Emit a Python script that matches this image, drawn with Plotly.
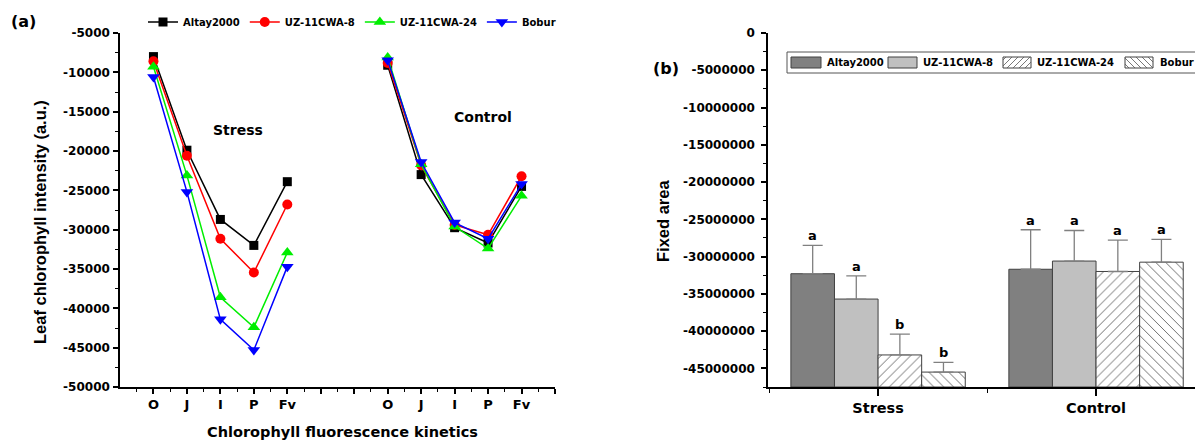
import plotly.graph_objects as go

# ---------------- data: panel (a) ----------------
stages = ["O", "J", "I", "P", "Fv"]
cultivars = ["Altay2000", "UZ-11CWA-8", "UZ-11CWA-24", "Bobur"]
stress_pos = [1, 2, 3, 4, 5]
control_pos = [8, 9, 10, 11, 12]

stress_altay = [-8000, -19900, -28700, -32000, -23900]
stress_uz8 = [-8600, -20600, -31150, -35450, -26800]
stress_uz24 = [-9300, -23100, -38600, -42400, -32900]
stress_bobur = [-10600, -25200, -41400, -45300, -34700]

control_altay = [-9100, -23000, -29750, -31700, -24500]
control_uz8 = [-8800, -21800, -29400, -30650, -23200]
control_uz24 = [-8100, -21700, -29600, -32400, -25700]
control_bobur = [-8450, -21400, -29100, -31150, -24200]

# ---------------- data: panel (b) ----------------
groups = ["Stress", "Control"]
area_altay = [-32.3e6, -31.7e6]
area_uz8 = [-35.7e6, -30.6e6]
area_uz24 = [-43.2e6, -32.0e6]
area_bobur = [-45.5e6, -30.75e6]
err_altay = [3.8e6, 5.3e6]
err_uz8 = [3.1e6, 4.1e6]
err_uz24 = [2.8e6, 4.2e6]
err_bobur = [1.3e6, 3.05e6]
letters_altay = ["a", "a"]
letters_uz8 = ["a", "a"]
letters_uz24 = ["b", "a"]
letters_bobur = ["b", "a"]

W, H = 1195, 443
TOP, BOT = 33, 387
WIDE = "DejaVu Sans, Verdana, sans-serif"
NARROW = "Liberation Sans, Arial, sans-serif"


def px(x):
    return x / W


def py(y):
    return (BOT - y) / (BOT - TOP)


def bold(s, fam=WIDE):
    return dict(family=fam, size=s, color="black", weight="bold")


fig = go.Figure()

# ---------- panel (a) lines ----------
line_colors = ["#000000", "#ff0000", "#00ee00", "#0000ff"]
symbols = ["square", "circle", "triangle-up", "triangle-down"]
sizes = [9, 10, 11, 11]
stress_sets = [stress_altay, stress_uz8, stress_uz24, stress_bobur]
control_sets = [control_altay, control_uz8, control_uz24, control_bobur]
for name, col, sym, sz, s_vals, c_vals in zip(cultivars, line_colors, symbols, sizes,
                                               stress_sets, control_sets):
    fig.add_trace(go.Scatter(
        x=stress_pos + [None] + control_pos,
        y=s_vals + [None] + c_vals,
        mode="lines+markers",
        name=name,
        line=dict(color=col, width=1.5),
        marker=dict(symbol=sym, size=sz, color=col),
        xaxis="x", yaxis="y", legend="legend",
    ))

# ---------- panel (b) bars ----------
AXIS_MIN_B = -47.5e6
bar_sets = [area_altay, area_uz8, area_uz24, area_bobur]
err_sets = [err_altay, err_uz8, err_uz24, err_bobur]
letter_sets = [letters_altay, letters_uz8, letters_uz24, letters_bobur]
bar_fill = ["#808080", "#c0c0c0", "white", "white"]
patterns = ["", "", "/", "\\"]
EDGE = "#404040"
HATCH = "#555555"
gx = list(range(len(groups)))
for ci, (name, vals, errs, fill, pat) in enumerate(zip(cultivars, bar_sets, err_sets,
                                                        bar_fill, patterns)):
    marker = dict(color=fill, line=dict(color=EDGE, width=1))
    if pat:
        marker["pattern"] = dict(shape=pat, fgcolor=HATCH, bgcolor="white",
                                 size=7, solidity=0.12, fillmode="replace")
    fig.add_trace(go.Bar(
        x=gx,
        y=[v - AXIS_MIN_B for v in vals],
        base=AXIS_MIN_B,
        name=name,
        marker=marker,
        error_y=dict(type="data", array=errs, arrayminus=[0] * len(errs),
                     symmetric=False, color="#808080", thickness=1.3, width=10),
        xaxis="x2", yaxis="y2", showlegend=False,
    ))

annotations = []
n = len(cultivars)
for ci in range(n):
    for gi in gx:
        annotations.append(dict(
            x=gi + (ci - (n - 1) / 2) * 0.2,
            y=bar_sets[ci][gi] + err_sets[ci][gi],
            xref="x2", yref="y2", text=letter_sets[ci][gi], showarrow=False,
            xanchor="center", yanchor="bottom", yshift=0, font=bold(13),
        ))


def ptext(x, y, text, font, angle=0):
    return dict(x=px(x), y=py(y), xref="paper", yref="paper", text=text,
                showarrow=False, xanchor="center", yanchor="middle",
                textangle=angle, font=font)


annotations += [
    ptext(23, 21, "(a)", bold(16)),
    ptext(666, 69, "(b)", bold(16)),
    dict(x=3.54, y=-17300, xref="x", yref="y", text="Stress", showarrow=False,
         xanchor="center", yanchor="middle", font=bold(14)),
    dict(x=10.85, y=-15700, xref="x", yref="y", text="Control", showarrow=False,
         xanchor="center", yanchor="middle", font=bold(14)),
    ptext(342, 432, "Chlorophyll fluorescence kinetics", bold(14.5)),
    ptext(40, 222, "Leaf chlorophyll intensity (a.u.)", bold(16.5, NARROW), -90),
    ptext(663, 221, "Fixed area", bold(16.5, NARROW), -90),
]

# ---------- hand-drawn legend for panel (b) (swatches + labels) ----------
shapes = []
LEG_Y0, LEG_Y1 = 52, 73
shapes.append(dict(type="rect", xref="paper", yref="paper", x0=px(787), x1=px(1210),
                   y0=py(LEG_Y1), y1=py(LEG_Y0), line=dict(color="#555555", width=1),
                   fillcolor="white", layer="above"))
sw_x = [(791, 821), (888, 917), (1003, 1031), (1125, 1153)]
txt_x = [825, 921, 1035, 1158]
SW_Y0, SW_Y1 = 57, 68


def hatch_segments(x0, x1, y0, y1, shape, step=6):
    w, h = x1 - x0, y1 - y0
    segs = []
    k = -h + step / 2
    while k < w + h:
        if shape == "/":
            t0, t1 = max(0, -k), min(h, w - k)
            if t1 > t0:
                segs.append((x0 + k + t0, y1 - t0, x0 + k + t1, y1 - t1))
        else:
            t0, t1 = max(0, k - w), min(h, k)
            if t1 > t0:
                segs.append((x0 + k - t0, y1 - t0, x0 + k - t1, y1 - t1))
        k += step
    return segs


for ci in range(n):
    xa, xb = sw_x[ci]
    shapes.append(dict(type="rect", xref="paper", yref="paper", x0=px(xa), x1=px(xb),
                       y0=py(SW_Y1), y1=py(SW_Y0), fillcolor=bar_fill[ci],
                       line=dict(color=EDGE, width=1), layer="above"))
    if patterns[ci]:
        for (ax, ay, bx, by) in hatch_segments(xa, xb, SW_Y0, SW_Y1, patterns[ci]):
            shapes.append(dict(type="line", xref="paper", yref="paper",
                               x0=px(ax), y0=py(ay), x1=px(bx), y1=py(by),
                               line=dict(color=HATCH, width=0.8), layer="above"))
    annotations.append(dict(x=px(txt_x[ci]), y=py((LEG_Y0 + LEG_Y1) / 2), xref="paper",
                            yref="paper", text=cultivars[ci], showarrow=False,
                            xanchor="left", yanchor="middle", font=bold(10)))

# tick definitions
a_ticks = list(range(-50000, -4999, 5000))
a_minor = list(range(-47500, -5000, 5000))
x_ticks = list(range(1, 14))
x_text = stages + ["", ""] + stages + [""]
x_minor = [i + 0.5 for i in range(0, 13)]
b_ticks = [-45e6 + 5e6 * i for i in range(10)]
b_minor = [-47.5e6 + 5e6 * i for i in range(10)]


def axis_common(ticklen=5, fs=12, standoff=0):
    return dict(showline=True, linecolor="black", linewidth=1.5, ticks="outside",
                ticklen=ticklen, tickwidth=1.5, tickcolor="black", showgrid=False,
                zeroline=False, tickfont=bold(fs), ticklabelstandoff=standoff)


def minor(vals, ln=3):
    return dict(tickmode="array", tickvals=vals, ticks="outside", ticklen=ln,
                tickcolor="black", tickwidth=1)


fig.update_layout(
    width=W, height=H,
    margin=dict(l=0, r=0, t=TOP, b=H - BOT, autoexpand=False),
    paper_bgcolor="white", plot_bgcolor="white",
    barmode="group", bargap=0.2, bargroupgap=0,
    xaxis=dict(domain=[px(120), px(555)], range=[0, 13], tickmode="array",
               tickvals=x_ticks, ticktext=x_text, anchor="y", minor=minor(x_minor),
               **axis_common(5, 13)),
    yaxis=dict(domain=[0, 1], range=[-50000, -5000], tickmode="array",
               tickvals=a_ticks, ticktext=[str(v) for v in a_ticks], anchor="x",
               minor=minor(a_minor), **axis_common(5, 12, 1)),
    xaxis2=dict(domain=[px(768), 1], range=[-0.505, 1.454], tickmode="array",
                tickvals=gx, ticktext=groups, anchor="y2",
                minor=minor([-0.5, 0.5, 1.5], 4), **axis_common(7, 14.5)),
    yaxis2=dict(domain=[0, 1], range=[AXIS_MIN_B, 0], tickmode="array",
                tickvals=b_ticks, ticktext=[str(int(v)) for v in b_ticks], anchor="x2",
                minor=minor(b_minor), **axis_common(5, 12, 4)),
    legend=dict(orientation="h", x=px(143), y=py(22), xanchor="left", yanchor="middle",
                font=bold(10), bgcolor="rgba(0,0,0,0)", tracegroupgap=0,
                itemwidth=30),
    annotations=annotations,
    shapes=shapes,
    showlegend=True,
)

fig.write_html("out.html", config={"displayModeBar": False},
               post_script="document.body.style.margin='0';document.body.style.overflow='hidden';")
